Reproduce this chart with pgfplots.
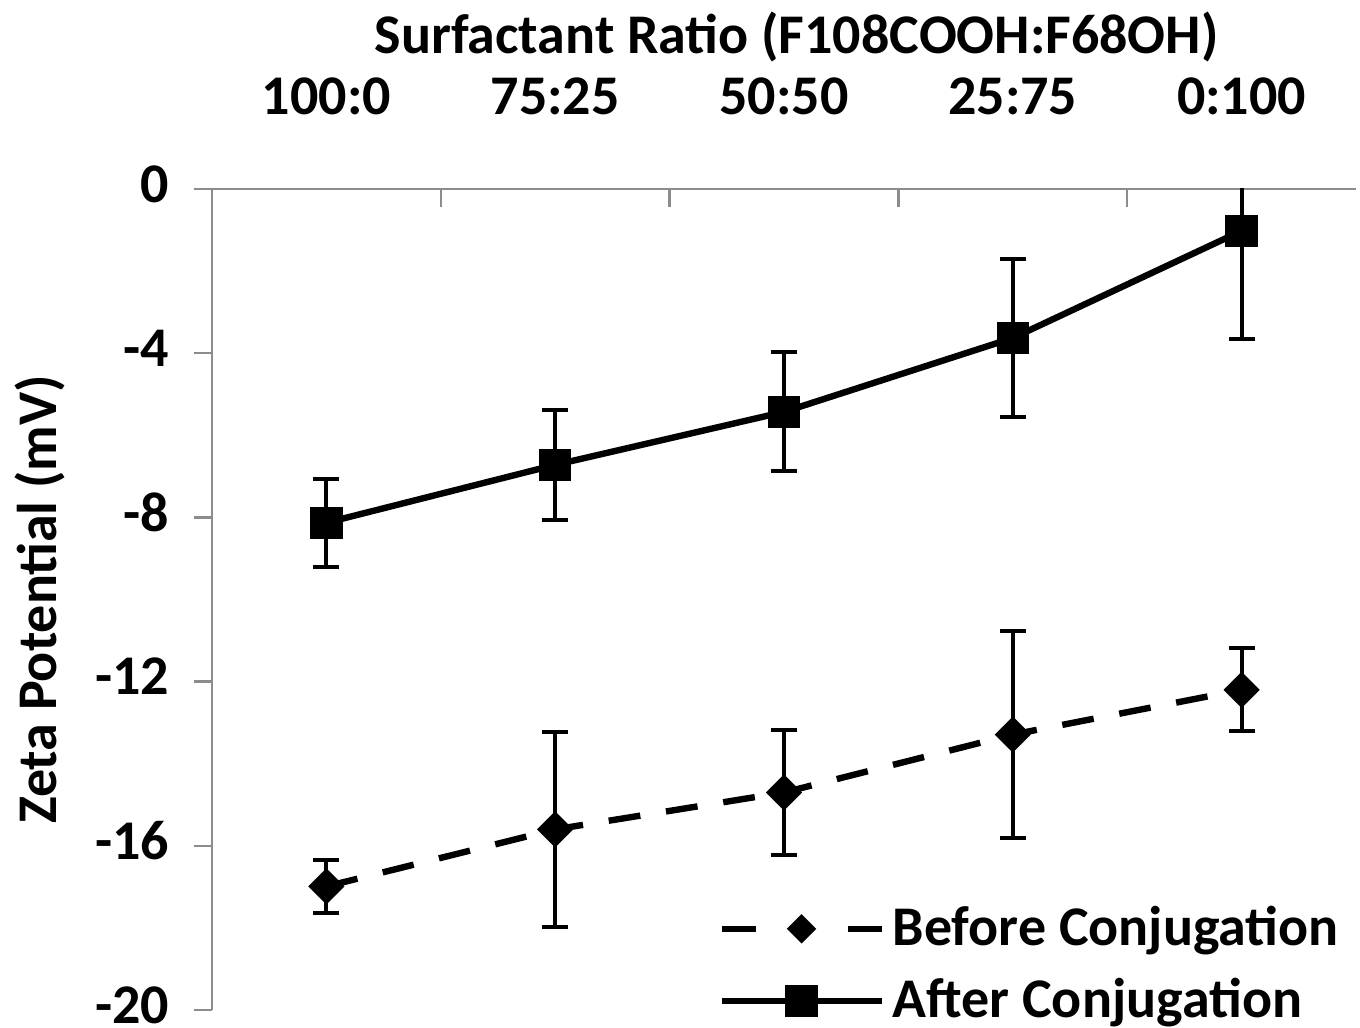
\documentclass[border=0pt]{standalone}
\usepackage{fontspec}
\setmainfont{Carlito}
\usepackage{pgfplots}
\pgfplotsset{compat=1.18}
\definecolor{axgray}{gray}{0.55}
\newcommand{\lblfont}{\bfseries\fontsize{28}{32}\selectfont}

\pgfplotstableread{
x y e
0 -16.99 0.64
1 -15.60 2.37
2 -14.70 1.52
3 -13.29 2.53
4 -12.20 1.01
}\before
\pgfplotstableread{
x y e
0 -8.13 1.07
1 -6.72 1.34
2 -5.43 1.45
3 -3.63 1.92
4 -1.02 2.63
}\after

\begin{document}
\begin{tikzpicture}
\useasboundingbox (-106pt,-9pt) rectangle (574pt,505pt);
\begin{axis}[
  at={(0,0)}, anchor=south west,
  scale only axis, width=572pt, height=410.5pt,
  xmin=-0.5, xmax=4.5, ymin=-20, ymax=0,
  axis x line*=top, axis y line*=left,
  axis line style={axgray, line width=1.2pt},
  tick style={axgray, line width=1.2pt},
  major tick length=9pt,
  xtick align=inside, ytick align=outside,
  ytick={-20,-16,-12,-8,-4,0},
  xtick={0.5,1.5,2.5,3.5}, xticklabels={},
  extra x ticks={0,1,2,3,4},
  extra x tick labels={100:0,75:25,50:50,25:75,0:100},
  extra x tick style={major tick length=0pt},
  tick label style={font=\lblfont, black},
  /pgf/number format/assume math mode=true,
  yticklabel style={inner ysep=0pt, xshift=-9pt, yshift=2.5pt},
  xticklabel style={yshift=33.5pt},
  xlabel={Surfactant Ratio (F108COOH:F68OH)},
  ylabel={Zeta Potential (mV)},
  every axis x label/.style={at={(axis description cs:0.511,1)}, anchor=center, yshift=76pt, font=\lblfont},
  every axis y label/.style={at={(axis description cs:0,0.5)}, rotate=90, anchor=center, yshift=86pt, font=\lblfont},
  legend style={draw=none, fill=none, at={(axis description cs:0.4423,0.1225)}, anchor=north west,
    font=\lblfont, inner sep=0pt, row sep=11pt,
    nodes={inner ysep=0pt, inner xsep=4pt, text height=18pt, text depth=7pt}},
  legend cell align=left,
  legend image code/.code={\draw[mark repeat=2,mark phase=2] plot coordinates {(0pt,3pt) (40pt,3pt) (80pt,3pt)};},
]
\addplot[black, line width=3.2pt, dash pattern=on 16pt off 13pt,
  mark=square*, mark size=4.8pt, mark options={solid, rotate=45},
  legend image code/.code={\draw[mark repeat=2,mark phase=2, dash pattern=on 17pt off 46pt, mark size=3.6pt] plot coordinates {(0pt,3pt) (40pt,3pt) (80pt,3pt)};},
  error bars/.cd, y dir=both, y explicit,
  error bar style={line width=2pt, black, solid},
  error mark options={rotate=90, mark size=6.5pt, line width=2pt, solid, black},
  ] table[x=x, y=y, y error=e] {\before};
\addlegendentry{Before Conjugation}
\addplot[black, line width=3.2pt, solid,
  mark=square*, mark size=6.5pt, mark options={solid},
  error bars/.cd, y dir=both, y explicit,
  error bar style={line width=2pt, black, solid},
  error mark options={rotate=90, mark size=6.5pt, line width=2pt, solid, black},
  ] table[x=x, y=y, y error=e] {\after};
\addlegendentry{After Conjugation}
\end{axis}
\end{tikzpicture}
\end{document}
